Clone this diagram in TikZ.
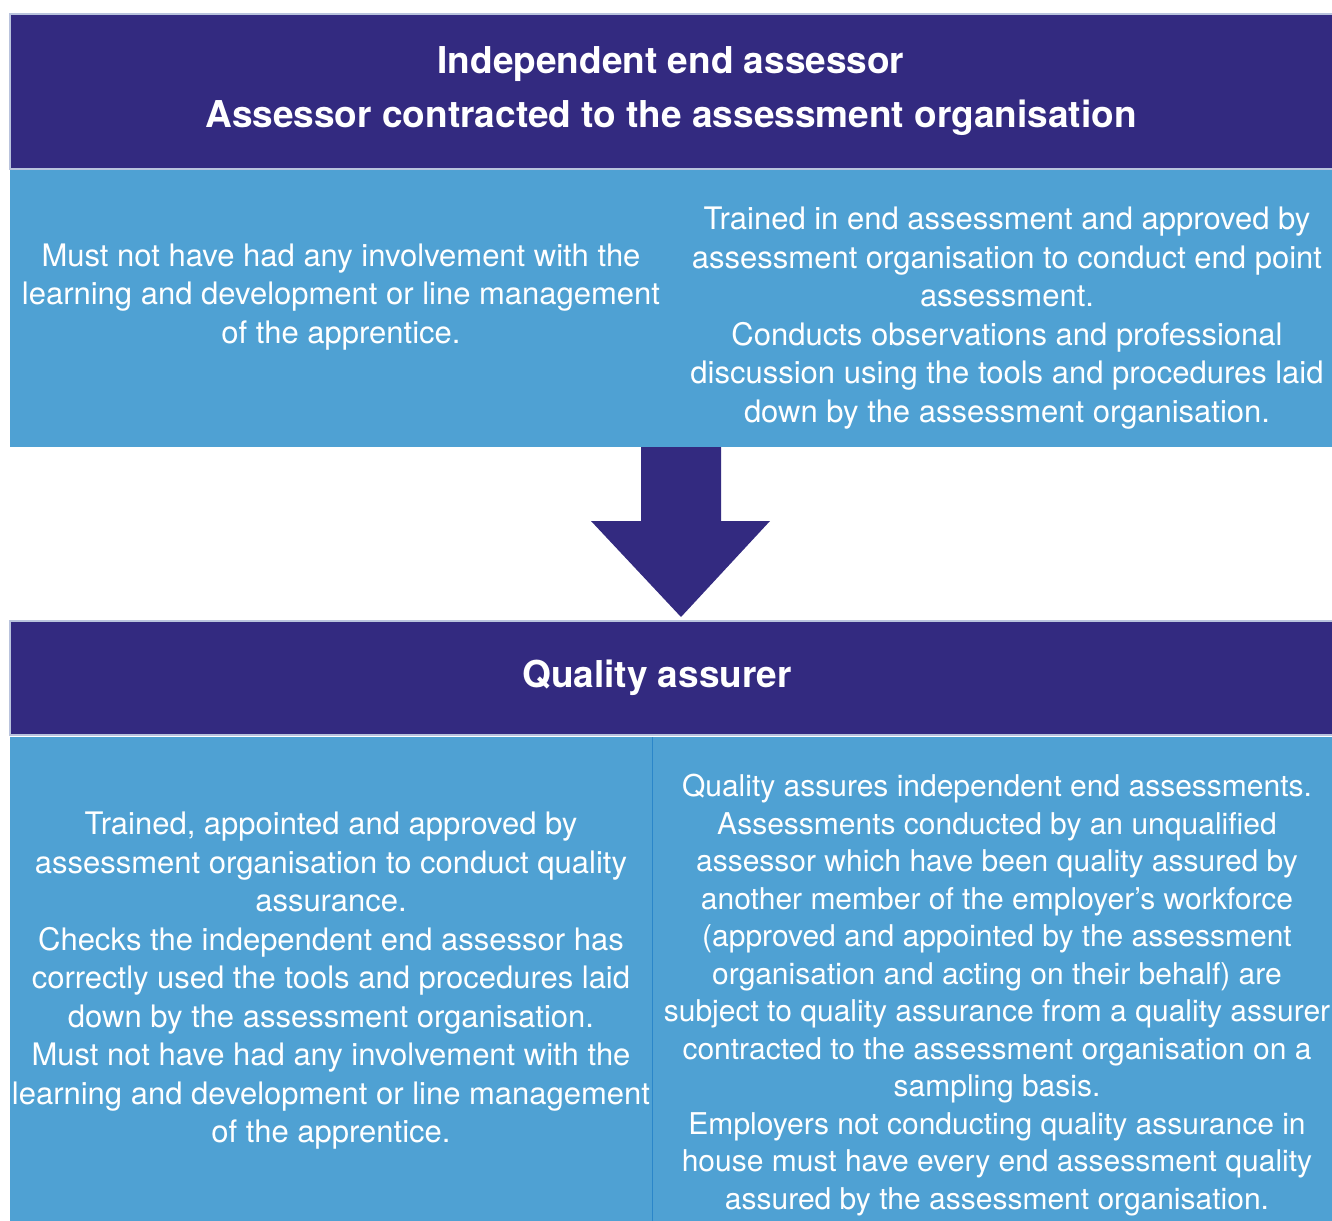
\documentclass[tikz,border=0pt]{standalone}
\usepackage{fontspec}
\setmainfont{TeX Gyre Heros}
\definecolor{bandblue}{HTML}{332A80}
\definecolor{bodyblue}{HTML}{4FA1D3}
\definecolor{bandedge}{HTML}{B9C3DD}
\definecolor{splitblue}{HTML}{2B86C9}

\begin{document}
\begin{tikzpicture}[x=1pt,y=-1pt,
    band/.style={fill=bandblue,draw=bandedge,line width=1.5pt},
    head/.style={text=white,font=\fontsize{37}{52}\selectfont\bfseries,align=center,inner sep=0pt},
    info/.style={text=white,font=\fontsize{31}{38.5}\selectfont,align=center,inner sep=0pt}]
      \useasboundingbox (0,0) rectangle (1332,1220);
      \clip (0,0) rectangle (1332,1220);
      \fill [bodyblue] (10,170) rectangle (1340,447);
      \fill [bodyblue] (10,737) rectangle (1340,1230);
      \draw [band] (10,14) rectangle (1340,169);
      \draw [band] (10,621) rectangle (1340,735);
      \draw [splitblue, line width=1pt] (652,737) -- (652,1230);
      \fill [bandblue] (641,447) -- (721,447) -- (721,521) -- (770,521) -- (681,617) -- (591,521) -- (641,521) -- cycle;

      \node [head] (assessorhead) at (671,91) {Independent end assessor\\[2pt]Assessor contracted to the assessment organisation};
      \node [head] (assurerhead) at (657,678) {Quality assurer};

      \node [info] (assessorleft) at (341,297) {Must not have had any involvement with the\\learning and development or line management\\of the apprentice.};
      \node [info] (assessorright) at (1007,318) {Trained in end assessment and approved by\\assessment organisation to conduct end point\\assessment.\\Conducts observations and professional\\discussion using the tools and procedures laid\\down by the assessment organisation.};
      \node [info] (assurerleft) at (331,981) {Trained, appointed and approved by\\assessment organisation to conduct quality\\assurance.\\Checks the independent end assessor has\\correctly used the tools and procedures laid\\down by the assessment organisation.\\Must not have had any involvement with the\\learning and development or line management\\of the apprentice.};
      \node [info, font=\fontsize{30}{37.5}\selectfont] (assurerright) at (997,995) {Quality assures independent end assessments.\\Assessments conducted by an unqualified\\assessor which have been quality assured by\\another member of the employer’s workforce\\(approved and appointed by the assessment\\organisation and acting on their behalf) are\\subject to quality assurance from a quality assurer\\contracted to the assessment organisation on a\\sampling basis.\\Employers not conducting quality assurance in\\house must have every end assessment quality\\assured by the assessment organisation.};
    \end{tikzpicture}
\end{document}
